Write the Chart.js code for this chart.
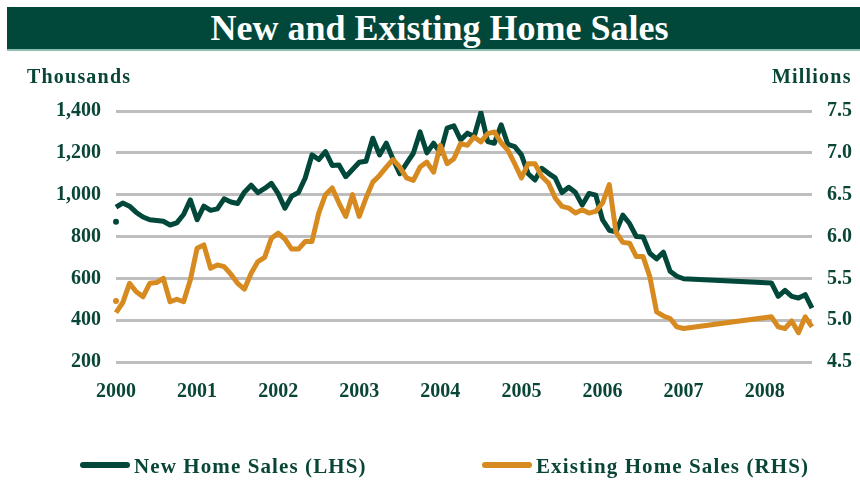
<!DOCTYPE html>
<html>
<head>
<meta charset="utf-8">
<script src="https://cdn.jsdelivr.net/npm/chart.js@4.4.0/dist/chart.umd.min.js"></script>
<style>
  html, body { margin: 0; padding: 0; background: #fff; }
  #wrap { position: relative; width: 860px; height: 480px; overflow: hidden; font-family: "Liberation Serif", "DejaVu Serif", serif; }
  #banner { position: absolute; left: 7px; top: 7px; width: 853px; height: 42px; background: #02483A; border-bottom: 2px solid #8FBDB2; color: #fff; font-weight: bold; font-size: 36px; line-height: 42px; text-align: center; box-sizing: content-box; text-indent: 12px; }
  .axt { position: absolute; top: 65px; font-weight: bold; font-size: 20px; letter-spacing: 1.2px; color: #0A4637; }
  #ltitle { left: 27px; }
  #rtitle { left: 772px; }
  canvas { position: absolute; left: 0; top: 0; }
  .leg { position: absolute; top: 454px; font-weight: bold; font-size: 21px; letter-spacing: 1.1px; color: #0A4637; white-space: nowrap; }
  .sym { position: absolute; top: 462px; height: 6px; width: 50px; border-radius: 3px; }
</style>
</head>
<body>
<div id="wrap">
  <canvas id="c" width="860" height="480"></canvas>
  <div id="banner">New and Existing Home Sales</div>
  <div class="axt" id="ltitle">Thousands</div>
  <div class="axt" id="rtitle">Millions</div>
  <div class="sym" style="left:80px;background:#02483A"></div>
  <div class="leg" style="left:134px">New Home Sales (LHS)</div>
  <div class="sym" style="left:482px;background:#D68A1F"></div>
  <div class="leg" style="left:536px">Existing Home Sales (RHS)</div>
</div>
<script>
// Monthly categories Jan 2000 .. Aug 2008
const years = [2000, 2001, 2002, 2003, 2004, 2005, 2006, 2007, 2008];
const months = [];
for (const y of years) {
  for (let m = 1; m <= 12; m++) {
    if (y === 2008 && m > 8) break;
    months.push(y + '-' + String(m).padStart(2, '0'));
  }
}

// New home sales, thousands (LHS); gap Feb 2007 - Jan 2008
const newHomeSales = [
  940, 960, 945, 915, 893, 880, 877, 873, 855, 865, 905, 975,
  880, 945, 925, 932, 980, 965, 958, 1012, 1045, 1010, 1030, 1054,
  1005, 935, 993, 1010, 1080, 1190, 1168, 1206, 1140, 1142, 1086, 1120,
  1155, 1160, 1270, 1190, 1246, 1170, 1100, 1150, 1198, 1300, 1200, 1246,
  1200, 1318, 1329, 1262, 1294, 1278, 1392, 1254, 1246, 1334, 1240, 1230,
  1190, 1100, 1070, 1126, 1102, 1080, 1010, 1035, 1010, 950, 1006, 998,
  880, 830, 822, 902, 862, 800, 798, 720, 693, 725, 634, 610,
  598, null, null, null, null, null, null, null, null, null, null, null,
  null, 578, 514, 542, 514, 506, 522, 458
];

// Existing home sales, millions (RHS)
const existingHomeSales = [
  5.09, 5.21, 5.44, 5.34, 5.28, 5.44, 5.45, 5.50, 5.22, 5.25, 5.22, 5.48,
  5.86, 5.90, 5.62, 5.66, 5.64, 5.55, 5.44, 5.37, 5.56, 5.70, 5.75, 5.98,
  6.04, 5.97, 5.85, 5.85, 5.94, 5.94, 6.28, 6.50, 6.58, 6.40, 6.24, 6.50,
  6.24, 6.46, 6.65, 6.73, 6.83, 6.92, 6.83, 6.70, 6.67, 6.83, 6.89, 6.77,
  7.09, 6.87, 6.93, 7.11, 7.09, 7.19, 7.13, 7.23, 7.25, 7.12, 7.03, 6.87,
  6.70, 6.87, 6.87, 6.72, 6.64, 6.46, 6.36, 6.34, 6.28, 6.32, 6.28, 6.30,
  6.40, 6.62, 6.05, 5.93, 5.92, 5.76, 5.76, 5.52, 5.10, 5.05, 5.02, 4.92,
  4.90, null, null, null, null, null, null, null, null, null, null, null,
  null, 5.04, 4.92, 4.90, 4.99, 4.85, 5.04, 4.92
];

// Stray first-month markers visible at the left edge
const newMarker = [870];
const existingMarker = [5.23];

const leftTicks = [200, 400, 600, 800, 1000, 1200, 1400];
const rightTicks = [4.5, 5.0, 5.5, 6.0, 6.5, 7.0, 7.5];

const GREEN = '#02483A';
const ORANGE = '#D68A1F';
const TXT = '#0A4637';
const tickFont = { family: '"Liberation Serif", serif', size: 20, weight: 'bold' };

new Chart(document.getElementById('c'), {
  type: 'line',
  data: {
    labels: months,
    datasets: [
      { label: 'New Home Sales (LHS)', data: newHomeSales, yAxisID: 'y', borderColor: GREEN, borderWidth: 5, pointRadius: 0, spanGaps: true, tension: 0, order: 2, borderJoinStyle: 'round' },
      { label: 'Existing Home Sales (RHS)', data: existingHomeSales, yAxisID: 'y1', borderColor: ORANGE, borderWidth: 5, pointRadius: 0, spanGaps: true, tension: 0, order: 1, borderJoinStyle: 'round' },
      { label: 'nm', data: newMarker, yAxisID: 'y', showLine: false, pointRadius: 3, pointBackgroundColor: GREEN, pointBorderWidth: 0, order: 3 },
      { label: 'em', data: existingMarker, yAxisID: 'y1', showLine: false, pointRadius: 3, pointBackgroundColor: ORANGE, pointBorderWidth: 0, order: 3 }
    ]
  },
  options: {
    responsive: false,
    animation: false,
    layout: { padding: { top: 111, left: 0, right: 0, bottom: 0 } },
    plugins: { legend: { display: false }, tooltip: { enabled: false }, title: { display: false } },
    scales: {
      x: {
        type: 'category',
        offset: false,
        grid: { display: false, drawTicks: false },
        border: { display: false },
        ticks: {
          autoSkip: false, maxRotation: 0, minRotation: 0, padding: 18,
          color: TXT, font: tickFont,
          callback: function (v, i) { const s = months[i]; return s.endsWith('-01') ? s.slice(0, 4) : ''; }
        },
        afterFit: function (s) { s.height = 118; }
      },
      y: {
        position: 'left', min: 200, max: 1400,
        afterBuildTicks: function (s) { s.ticks = leftTicks.map(v => ({ value: v })); },
        grid: { color: '#BEBEBE', lineWidth: 3, drawTicks: false },
        border: { display: false },
        ticks: { padding: 15, color: TXT, font: tickFont, callback: v => v.toLocaleString('en-US') },
        afterFit: function (s) { s.width = 116; }
      },
      y1: {
        position: 'right', min: 4.5, max: 7.5,
        afterBuildTicks: function (s) { s.ticks = rightTicks.map(v => ({ value: v })); },
        grid: { display: false, drawTicks: false },
        border: { display: false },
        ticks: { padding: 15, color: TXT, font: tickFont, callback: v => Number(v).toFixed(1) },
        afterFit: function (s) { s.width = 48; }
      }
    }
  }
});
</script>
</body>
</html>
